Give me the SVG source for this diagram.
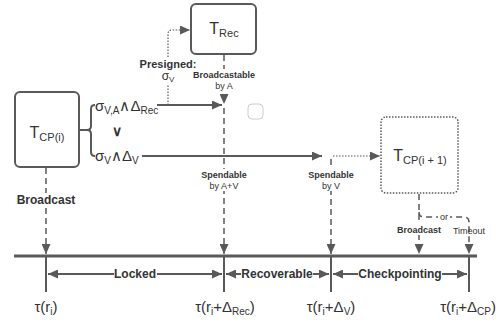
<svg xmlns="http://www.w3.org/2000/svg" width="498" height="322" viewBox="0 0 498 322">
<defs>
<marker id="ah" markerUnits="userSpaceOnUse" markerWidth="11" markerHeight="9" refX="10" refY="4.5" orient="auto-start-reverse">
<path d="M0,0 L10,4.5 L0,9 z" fill="#595959"/>
</marker>
</defs>
<style>
.box{fill:#fff;stroke:#595959;stroke-width:2}
.dotbox{fill:#fff;stroke:#595959;stroke-width:1.5;stroke-dasharray:1.5 1.5}
.ln{fill:none;stroke:#595959;stroke-width:2}
.dash{fill:none;stroke:#595959;stroke-width:1.5;stroke-dasharray:6 4}
.dot{fill:none;stroke:#595959;stroke-width:1.2;stroke-dasharray:1.5 1.5}
text{font-family:"Liberation Sans",Arial,sans-serif;fill:#333}
.big{font-size:16px}
.sub{font-size:11px}
.m{font-size:15px}
.ms{font-size:10px}
.b12{font-size:12px;font-weight:bold}
.b9{font-size:9px;font-weight:bold}
.n9{font-size:9px}
.bg{fill:#fff;stroke:none}
</style>
<g id="connectors">
<path class="ln" d="M95,105 Q91,105 91,109 L91,126 Q91,130 87,130 L79,130 M87,130 Q91,130 91,134 L91,152 Q91,156 95,156"/>
<line class="ln" x1="157" y1="105" x2="222" y2="105" marker-end="url(#ah)"/>
<line class="ln" x1="142" y1="156" x2="322" y2="156" marker-end="url(#ah)"/>
<path class="dot" d="M168,105 L168,34 Q168,30 172,30 L190,30" marker-end="url(#ah)"/>
<line class="dot" x1="333" y1="156" x2="380" y2="156" marker-end="url(#ah)"/>
<line class="dash" x1="46" y1="168" x2="46" y2="254" marker-end="url(#ah)"/>
<line class="dash" x1="224" y1="55" x2="224" y2="104" marker-end="url(#ah)"/>
<line class="dash" x1="224" y1="108" x2="224" y2="254" marker-end="url(#ah)"/>
<line class="dash" x1="331" y1="159" x2="331" y2="254" marker-end="url(#ah)"/>
<line class="dash" x1="419" y1="194" x2="419" y2="254" marker-end="url(#ah)"/>
<path class="dash" d="M419,212 Q419,217 424,217 L464,217 Q469,217 469,222 L469,254" marker-end="url(#ah)"/>
<line x1="14" y1="256" x2="477" y2="256" stroke="#595959" stroke-width="3"/>
<line class="ln" x1="46" y1="256" x2="46" y2="292"/>
<line class="ln" x1="224" y1="256" x2="224" y2="292"/>
<line class="ln" x1="331" y1="256" x2="331" y2="292"/>
<line class="ln" x1="469" y1="256" x2="469" y2="292"/>
<line class="ln" x1="48" y1="274" x2="222" y2="274" marker-start="url(#ah)" marker-end="url(#ah)"/>
<line class="ln" x1="226" y1="274" x2="329" y2="274" marker-start="url(#ah)" marker-end="url(#ah)"/>
<line class="ln" x1="333" y1="274" x2="467" y2="274" marker-start="url(#ah)" marker-end="url(#ah)"/>
</g>
<g id="T_CP_i">
<rect class="box" x="15" y="92" width="64" height="75" rx="5"/>
<text x="47" y="138" text-anchor="middle"><tspan class="big">T</tspan><tspan class="sub" dy="3">CP(i)</tspan></text>
</g>
<g id="T_Rec">
<rect class="box" x="191" y="4" width="65" height="50" rx="5"/>
<text x="224" y="34" text-anchor="middle"><tspan class="big">T</tspan><tspan class="sub" dy="3">Rec</tspan></text>
</g>
<g id="T_CP_i1">
<rect class="dotbox" x="381" y="117" width="77" height="76" rx="5"/>
<text x="420" y="161" text-anchor="middle"><tspan class="big">T</tspan><tspan class="sub" dy="3">CP(i + 1)</tspan></text>
</g>
<g id="small_box">
<rect x="248" y="104" width="15" height="15" rx="4" fill="#fff" stroke="#ccc" stroke-width="1"/>
</g>
<g id="labels">
<text x="95" y="111"><tspan class="m">σ</tspan><tspan class="ms" dy="3">V,A</tspan><tspan class="m" dy="-3">∧Δ</tspan><tspan class="ms" dy="3">Rec</tspan></text>
<text x="117" y="136" text-anchor="middle" style="font-size:14px;font-weight:bold">∨</text>
<text x="95" y="161"><tspan class="m">σ</tspan><tspan class="ms" dy="3">V</tspan><tspan class="m" dy="-3">∧Δ</tspan><tspan class="ms" dy="3">V</tspan></text>
<rect class="bg" x="140" y="57" width="56" height="27"/>
<text x="168" y="68" text-anchor="middle" style="font-size:11px;font-weight:bold">Presigned:</text>
<text x="168" y="80" text-anchor="middle"><tspan style="font-size:12px">σ</tspan><tspan style="font-size:8px" dy="2">V</tspan></text>
<rect class="bg" x="192" y="69" width="64" height="22"/>
<text x="224" y="78" text-anchor="middle" class="b9">Broadcastable</text>
<text x="224" y="89" text-anchor="middle" class="n9">by A</text>
<rect class="bg" x="200" y="169" width="48" height="22"/>
<text x="224" y="178" text-anchor="middle" class="b9">Spendable</text>
<text x="224" y="189" text-anchor="middle" class="n9">by A+V</text>
<rect class="bg" x="307" y="169" width="48" height="22"/>
<text x="331" y="178" text-anchor="middle" class="b9">Spendable</text>
<text x="331" y="189" text-anchor="middle" class="n9">by V</text>
<rect class="bg" x="18" y="193" width="56" height="15"/>
<text x="46" y="204" text-anchor="middle" class="b12">Broadcast</text>
<rect class="bg" x="397" y="224" width="44" height="11"/>
<text x="419" y="233" text-anchor="middle" class="b9">Broadcast</text>
<rect class="bg" x="438" y="211" width="12" height="11"/>
<text x="444" y="220" text-anchor="middle" style="font-size:9px">or</text>
<text x="469" y="234" text-anchor="middle" class="n9">Timeout</text>
<rect class="bg" x="114" y="267" width="43" height="14"/>
<text x="135" y="278" text-anchor="middle" class="b12">Locked</text>
<rect class="bg" x="241" y="267" width="72" height="14"/>
<text x="277" y="278" text-anchor="middle" class="b12">Recoverable</text>
<rect class="bg" x="358" y="267" width="84" height="14"/>
<text x="400" y="278" text-anchor="middle" class="b12">Checkpointing</text>
<text x="46" y="312" text-anchor="middle"><tspan class="m">τ(r</tspan><tspan class="ms" dy="3">i</tspan><tspan class="m" dy="-3">)</tspan></text>
<text x="225" y="312" text-anchor="middle"><tspan class="m">τ(r</tspan><tspan class="ms" dy="3">i</tspan><tspan class="m" dy="-3">+Δ</tspan><tspan class="ms" dy="3">Rec</tspan><tspan class="m" dy="-3">)</tspan></text>
<text x="331" y="312" text-anchor="middle"><tspan class="m">τ(r</tspan><tspan class="ms" dy="3">i</tspan><tspan class="m" dy="-3">+Δ</tspan><tspan class="ms" dy="3">V</tspan><tspan class="m" dy="-3">)</tspan></text>
<text x="496" y="312" text-anchor="end"><tspan class="m">τ(r</tspan><tspan class="ms" dy="3">i</tspan><tspan class="m" dy="-3">+Δ</tspan><tspan class="ms" dy="3">CP</tspan><tspan class="m" dy="-3">)</tspan></text>
</g>
</svg>
